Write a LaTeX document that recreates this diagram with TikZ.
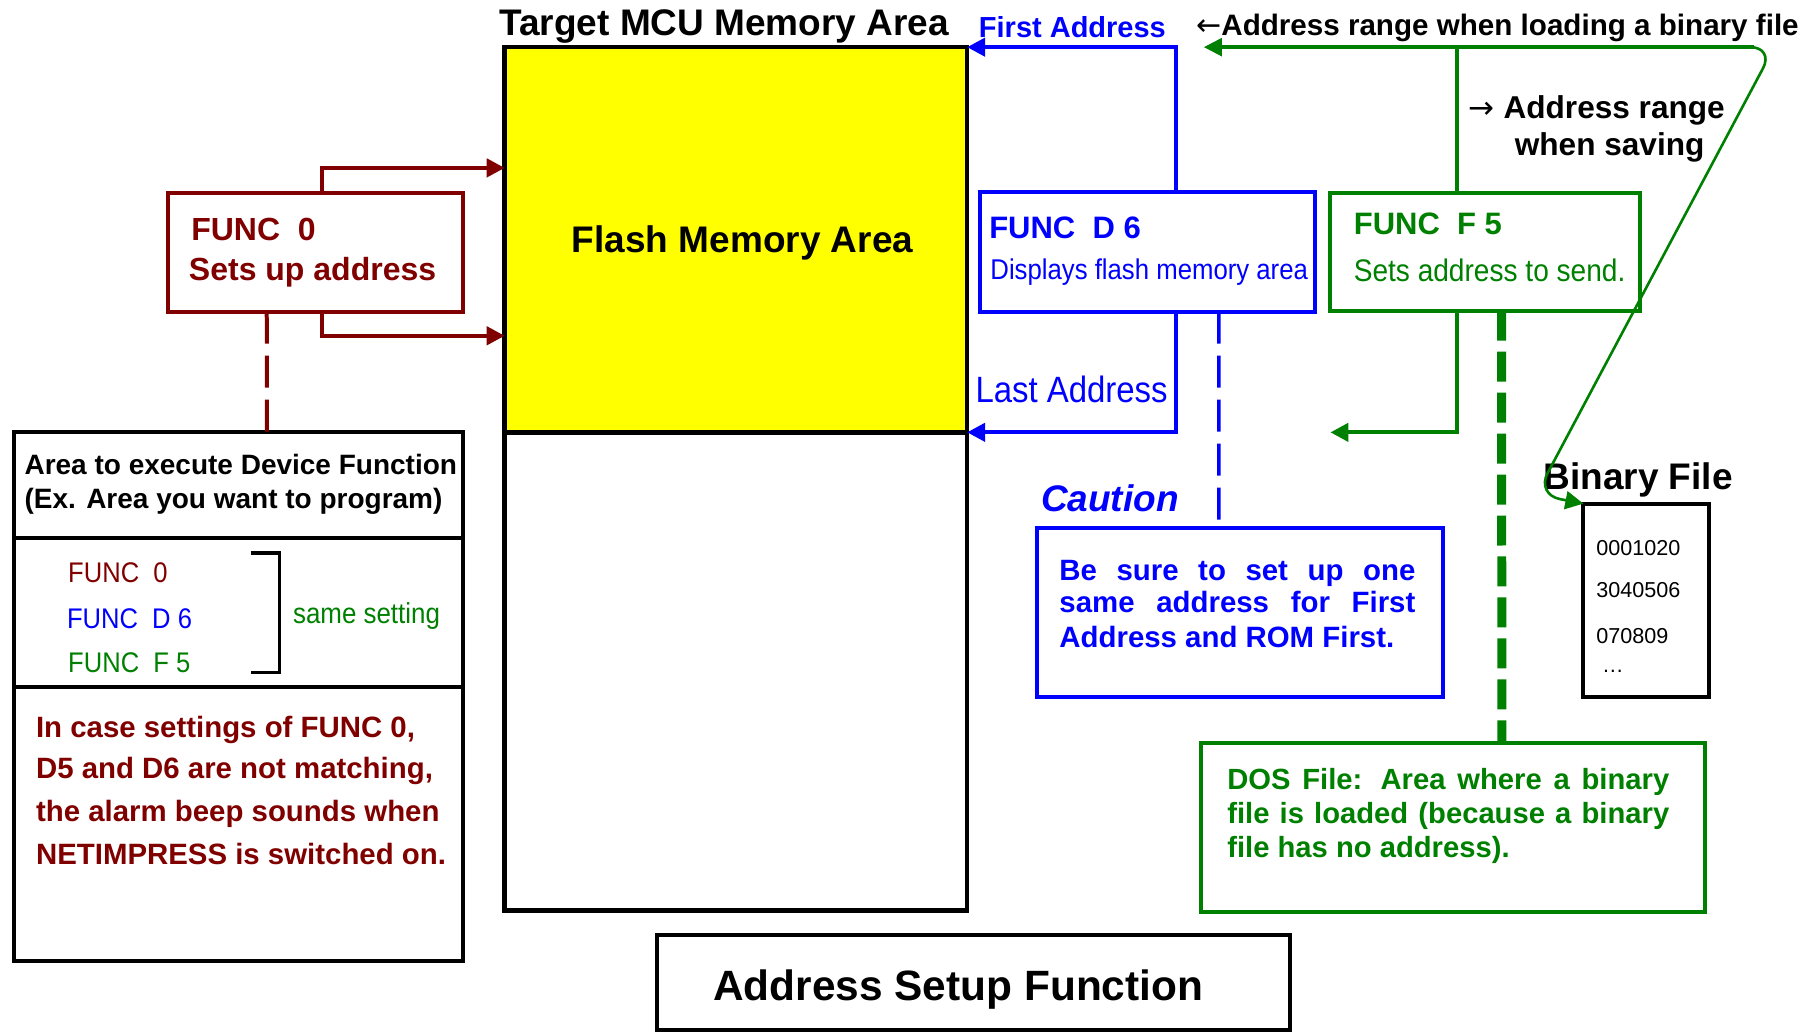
\documentclass[tikz,border=0pt]{standalone}
\usepackage{fontspec}
\setmainfont{Liberation Sans}
\newfontfamily\nf[FakeStretch=0.9]{Liberation Sans}
\newfontfamily\dv{DejaVu Sans}
\usetikzlibrary{arrows.meta,calc}
\definecolor{dred}{RGB}{128,0,0}
\definecolor{mblue}{RGB}{0,0,255}
\definecolor{mgreen}{RGB}{0,128,0}
\definecolor{myellow}{RGB}{255,255,0}
\newcommand\fsz[1]{\fontsize{#1}{#1}\selectfont}
\begin{document}
\begin{tikzpicture}[x=0.575pt,y=-0.575pt,
  box/.style={draw, line width=2pt, inner sep=0pt, outer sep=0pt},
  txt/.style={inner sep=0pt, anchor=base west},
  conn/.style={line width=2.1pt},
  tip/.style={-{Triangle[length=9pt,width=9pt]}},
  dsh/.style={dash pattern=on 16pt off 6pt}]
\useasboundingbox (0,0) rectangle (1568,898);
% memory area
\node[box, line width=2.3pt, fill=myellow, minimum width=231.2pt, minimum height=192.6pt] (flash) at (640,208.5) {};
\node[box, line width=2.3pt, minimum width=231.2pt, minimum height=239.2pt] (lower) at (640,584) {};
\node[txt, font=\fsz{18.5}\bfseries] (title) at (434,31) {Target MCU Memory Area};
\node[txt, font=\fsz{18.5}\bfseries] (flashlbl) at (497,220) {Flash Memory Area};
% FUNC 0 box
\node[box, draw=dred, minimum width=147.8pt, minimum height=59.2pt] (f0) at (274.5,219.5) {};
\node[txt, text=dred, font=\fsz{16}\bfseries] (f0a) at (166,209) {FUNC~~0};
\node[txt, text=dred, font=\fsz{16}\bfseries] (f0b) at (164,244) {Sets up address};
% FUNC D6 box
\node[box, draw=mblue, minimum width=167.9pt, minimum height=59.8pt] (d6) at (998,219) {};
\node[txt, text=mblue, font=\fsz{15.5}\bfseries] (d6a) at (860,207) {FUNC~~D 6};
\node[txt, text=mblue, font=\fsz{14.3}\nf] (d6b) at (861,243.5) {Displays flash memory area};
% FUNC F5 box
\node[box, draw=mgreen, minimum width=154.7pt, minimum height=58.7pt] (f5) at (1291.5,219) {};
\node[txt, text=mgreen, font=\fsz{15.5}\bfseries] (f5a) at (1177,203.5) {FUNC~~F 5};
\node[txt, text=mgreen, font=\fsz{15.6}\nf] (f5b) at (1177,245) {Sets address to send.};
% labels
\node[txt, text=mblue, font=\fsz{14.5}\bfseries] (firstad) at (851,33) {First Address};
\node[txt, text=mblue, font=\fsz{18.3}\nf] (lastad) at (848,350) {Last Address};
\node[txt, font=\fsz{14.8}\bfseries] (loadlbl) at (1040,30.5) {{\dv\mdseries\fsz{15}←}Address range when loading a binary file};
\node[txt, font=\fsz{15.8}\bfseries] (savea) at (1277,103) {{\dv\mdseries\fsz{15.5}→} Address range};
\node[txt, font=\fsz{15.8}\bfseries] (saveb) at (1317,135) {when saving};
\node[txt, font=\fsz{18.5}\bfseries] (binlbl) at (1342,426) {Binary File};
\node[txt, text=mblue, font=\fsz{18.5}\bfseries\itshape] (caut) at (905,445) {Caution};
% caution box
\node[box, draw=mblue, minimum width=203pt, minimum height=84.5pt] (cbox) at (1078.5,532.5) {};
\node[txt, text=mblue, font=\fsz{14.7}\bfseries] (c1) at (921,505) {\makebox[178pt][s]{Be sure to set up one}};
\node[txt, text=mblue, font=\fsz{14.7}\bfseries] (c2) at (921,533) {\makebox[178pt][s]{same address for First}};
\node[txt, text=mblue, font=\fsz{14.7}\bfseries] (c3) at (921,563) {Address and ROM First.};
% binary file
\node[box, minimum width=62.7pt, minimum height=96.6pt] (bin) at (1431.5,522) {};
\node[txt, font=\fsz{10.8}] (b1) at (1388,483) {0001020};
\node[txt, font=\fsz{10.8}] (b2) at (1388,520) {3040506};
\node[txt, font=\fsz{10.8}] (b3) at (1388,560) {070809};
\node[txt, font=\fsz{10.8}] (b4) at (1393,585) {…};
% DOS box
\node[box, draw=mgreen, minimum width=252.4pt, minimum height=84.5pt] (dos) at (1263.5,719.5) {};
\node[txt, text=mgreen, font=\fsz{14.6}\bfseries] (dos1) at (1067,687) {\makebox[221pt][s]{DOS File: Area where a binary}};
\node[txt, text=mgreen, font=\fsz{14.6}\bfseries] (dos2) at (1067,716) {\makebox[221pt][s]{file is loaded (because a binary}};
\node[txt, text=mgreen, font=\fsz{14.6}\bfseries] (dos3) at (1067,746) {file has no address).};
% left box
\node[box, minimum width=224.5pt, minimum height=52.9pt] (lbhead) at (207.25,422) {};
\node[box, minimum width=224.5pt, minimum height=74.2pt] (lbfunc) at (207.25,532.5) {};
\node[box, minimum width=224.5pt, minimum height=137.4pt] (lbnote) at (207.25,716.5) {};
\node[txt, font=\fsz{14}\bfseries] (h1) at (21,413) {Area to execute Device Function};
\node[txt, font=\fsz{14}\bfseries] (h2) at (21,442.6) {(Ex. Area you want to program)};
\node[txt, text=dred, font=\fsz{14.2}\nf] (l1) at (59,506.5) {FUNC~~0};
\node[txt, text=mblue, font=\fsz{14.2}\nf] (l2) at (58,547) {FUNC~~D 6};
\node[txt, text=mgreen, font=\fsz{14.2}\nf] (l3) at (59,585) {FUNC~~F 5};
\node[txt, text=mgreen, font=\fsz{14.4}\nf] (same) at (254.5,542) {same setting};
\draw[line width=1.6pt] (218,481) -- (243,481) -- (243,585) -- (218,585);
\node[txt, text=dred, font=\fsz{14.7}\bfseries] (r1) at (31,641) {In case settings of FUNC 0,};
\node[txt, text=dred, font=\fsz{14.7}\bfseries] (r2) at (31,677) {D5 and D6 are not matching,};
\node[txt, text=dred, font=\fsz{14.7}\bfseries] (r3) at (31,714) {the alarm beep sounds when};
\node[txt, text=dred, font=\fsz{14.7}\bfseries] (r4) at (31,752) {NETIMPRESS is switched on.};
% title box
\node[box, minimum width=316.8pt, minimum height=47.4pt] (tbox) at (846.5,854.3) {};
\node[txt, font=\fsz{21.2}\bfseries] (tlbl) at (620,870) {Address Setup Function};
% connectors red
\draw[conn, tip, draw=dred] ($(f0.north west)+(134,0)$) |- ($(flash.north west)+(0,105)$);
\draw[conn, tip, draw=dred] ($(f0.south west)+(134,0)$) |- ($(flash.north west)+(0,251)$);
\draw[line width=2pt, dsh, draw=dred] ($(f0.south west)+(86,0)$) -- ($(lbhead.north west)+(220,0)$);
% connectors blue
\draw[conn, tip, draw=mblue] ($(d6.north west)+(171,0)$) |- (flash.north east);
\draw[conn, tip, draw=mblue] ($(d6.south west)+(171,0)$) |- (flash.south east);
\coordinate (cend) at (1060,452);
\draw[line width=1.8pt, dsh, draw=mblue] ($(d6.south west)+(208,0)$) -- (cend);
% connectors green
\coordinate (gtip) at (1047,41);
\coordinate (gtip2) at (1157,376);
\draw[conn, draw=mgreen] ($(f5.north west)+(110,0)$) -- ($(f5.north west)+(110,-127)$);
\draw[line width=1.3pt, draw=mgreen, {Triangle[length=9pt,width=9pt]}-{Triangle[length=9pt,width=9pt]}, rounded corners=12pt]
  (gtip) -- (1543,41) -- (1336,430) -- (bin.north west);
\draw[conn, draw=mgreen] ($(gtip)+(10,0)$) -- (1525,41);
\draw[conn, tip, draw=mgreen] ($(f5.south west)+(110,0)$) |- (gtip2);
\draw[line width=4.5pt, draw=mgreen, dash pattern=on 15pt off 5.5pt] ($(f5.south west)+(149,0)$) -- ($(dos.north west)+(262,0)$);
\end{tikzpicture}
\end{document}
